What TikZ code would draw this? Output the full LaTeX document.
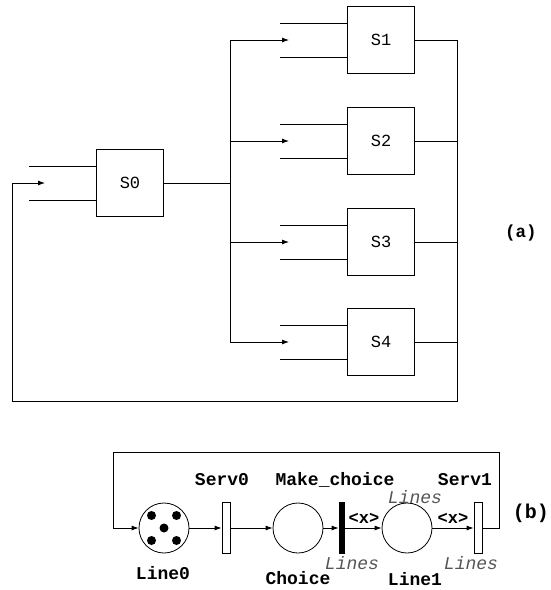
\documentclass[tikz,border=0pt]{standalone}
\usepackage{fontspec}
\usetikzlibrary{
  arrows.meta,
  positioning,
  calc
}
\newfontfamily\courfont{Liberation Mono}
\definecolor{linesgray}{RGB}{85,85,85}

\tikzset{
  blk/.style={draw, minimum size=67pt, inner sep=0pt, font=\courfont\fontsize{17}{17}\selectfont},
  place/.style={draw, circle, minimum size=50pt, inner sep=0pt},
  trans/.style={draw, minimum width=8pt, minimum height=51pt, inner sep=0pt},
  bar/.style={draw, fill=black, minimum width=5pt, minimum height=51pt, inner sep=0pt},
  tok/.style={fill=black, circle, minimum size=9pt, inner sep=0pt},
  lbl/.style={font=\courfont\bfseries\fontsize{18}{18}\selectfont, inner sep=0pt},
  ital/.style={font=\courfont\itshape\fontsize{18}{18}\selectfont, text=linesgray, inner sep=0pt},
  arr/.style={-{Latex[length=7pt,width=5pt]}}
}

\begin{document}
\begin{tikzpicture}[x=1pt, y=-1pt, line width=0.8pt]
  \useasboundingbox (0,0) rectangle (550,590);

  % (a) part
  \node[blk] (s0) at (130,183) {S0};
  \coordinate (s0in) at (45,183);
  \coordinate (fbl) at (12,183);
  \coordinate (loopbot) at (12,401);
  \draw ($(s0.west)+(0,-17)$) -- ++(-67,0);
  \draw ($(s0.west)+(0,17)$) -- ++(-67,0);
  \coordinate (bus) at (230,183);
  \draw (s0.east) -- (bus);

  \foreach \i/\y in {1/40,2/141,3/242,4/342}{
    \node[blk] (s\i) at (381,\y) {S\i};
    \coordinate (br\i) at (230,\y);
    \coordinate (in\i) at (289,\y);
    \coordinate (col\i) at (457,\y);
    \draw ($(s\i.west)+(0,-17)$) -- ++(-67,0);
    \draw ($(s\i.west)+(0,17)$) -- ++(-67,0);
    \draw[arr] (br\i) -- (in\i);
    \draw (s\i.east) -- (col\i);
  }
  \draw (br1) -- (br4);
  \draw[arr] (col1) |- (loopbot) -- (fbl) -- (s0in);

  \node[font=\courfont\bfseries\fontsize{17.5}{17.5}\selectfont] (labela) at (521,233) {(a)};

  % (b) part
  \node[place] (line0) at (164,528) {};
  \foreach \dx/\dy/\k in {-12.5/-12.5/1,12.5/-12.5/2,0/0/3,-12.5/12.5/4,12.5/12.5/5}
    \node[tok] (tok\k) at ($(line0)+(\dx,\dy)$) {};
  \node[trans] (serv0) at (226,528) {};
  \node[place] (choice) at (298,528) {};
  \node[bar] (mk) at (341.5,528) {};
  \node[place] (line1) at (407,528) {};
  \node[trans] (serv1) at (478,528) {};

  \draw[arr] (line0) -- (serv0);
  \draw[arr] (serv0) -- (choice);
  \draw[arr] (choice) -- (mk);
  \draw[arr] (mk) -- (line1);
  \draw[arr] (line1) -- (serv1);
  \coordinate (fbr) at (499,452);
  \coordinate (fbtop) at (113,452);
  \draw[arr] (serv1.east) -| (fbr) -- (fbtop) |- (line0.west);

  \node[lbl] (serv0lbl) at (222,480) {Serv0};
  \node[lbl] (mklbl) at (335,480) {Make\_choice};
  \node[lbl] (serv1lbl) at (465,480) {Serv1};
  \node[lbl] (line0lbl) at (163,573) {Line0};
  \node[lbl] (choicelbl) at (298,578) {Choice};
  \node[lbl] (line1lbl) at (415,579) {Line1};
  \node[ital] (lines1) at (415,497) {Lines};
  \node[ital] (lines2) at (352,563) {Lines};
  \node[ital] (lines3) at (471,563) {Lines};
  \node[lbl, font=\courfont\bfseries\fontsize{17}{17}\selectfont] (x1) at (364,518) {<x>};
  \node[lbl, font=\courfont\bfseries\fontsize{17}{17}\selectfont] (x2) at (453,518) {<x>};
  \node[font=\courfont\bfseries\fontsize{20}{20}\selectfont] (labelb) at (531,513) {(b)};
\end{tikzpicture}
\end{document}
